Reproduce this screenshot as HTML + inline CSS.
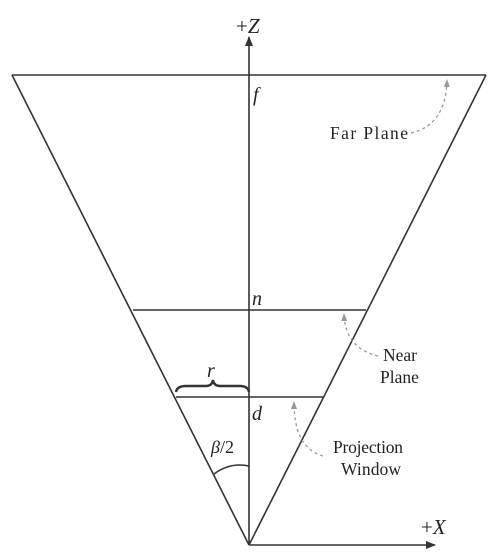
<!DOCTYPE html>
<html><head><meta charset="utf-8"><style>
html,body{margin:0;padding:0;background:#fff}
svg{display:block}
text{font-family:"Liberation Serif",serif;fill:#222}
.lbl{font-size:17.5px}
.it{font-style:italic;font-size:20px}
</style></head><body>
<svg width="500" height="553" viewBox="0 0 500 553">
<defs>
<marker id="ah" markerWidth="10" markerHeight="10" refX="9" refY="5" orient="auto" markerUnits="userSpaceOnUse"><path d="M0,1 L10,5 L0,9 z" fill="#333"/></marker>
<marker id="gah" markerWidth="8" markerHeight="8" refX="7" refY="4" orient="auto" markerUnits="userSpaceOnUse"><path d="M0,1 L8,4 L0,7 z" fill="#999"/></marker>
</defs>
<g stroke="#333" stroke-width="1.6" fill="none">
<line x1="249" y1="545" x2="12" y2="75"/>
<line x1="249" y1="545" x2="486" y2="75"/>
<line x1="12" y1="75" x2="486" y2="75"/>
<line x1="133" y1="310" x2="366" y2="310"/>
<line x1="176" y1="397" x2="323" y2="397"/>
<line x1="249" y1="545" x2="249" y2="37" marker-end="url(#ah)"/>
<line x1="249" y1="545" x2="435" y2="545" marker-end="url(#ah)"/>
<path stroke-width="2.4" d="M176,392 Q177,386 186,386 L206,386 Q212,386 213,380 Q214,386 220,386 L240,386 Q248,386 249,392"/>
<path d="M214,474 Q230,462 249,466"/>
</g>
<g stroke="#999" stroke-width="1.3" fill="none" stroke-dasharray="3,3">
<path d="M411,133 Q446,125 447,80" marker-end="url(#gah)"/>
<path d="M378,356 Q345,348 344,314" marker-end="url(#gah)"/>
<path d="M323,456 Q294,448 294,402" marker-end="url(#gah)"/>
</g>
<text x="236" y="33" style="font-size:21px">+<tspan font-style="italic">Z</tspan></text>
<text x="421" y="534" style="font-size:21px">+<tspan font-style="italic">X</tspan></text>
<text class="it" x="253" y="101">f</text>
<text class="it" x="252" y="305">n</text>
<text class="it" x="252" y="420">d</text>
<text class="it" x="207" y="377">r</text>
<text x="211" y="453" style="font-size:18px"><tspan font-style="italic">β</tspan>/2</text>
<text class="lbl" x="330" y="139" textLength="78">Far Plane</text>
<text class="lbl" x="383" y="361">Near</text>
<text class="lbl" x="380" y="383">Plane</text>
<text class="lbl" x="333" y="453" textLength="70">Projection</text>
<text class="lbl" x="341" y="475" textLength="60">Window</text>
</svg>
</body></html>
